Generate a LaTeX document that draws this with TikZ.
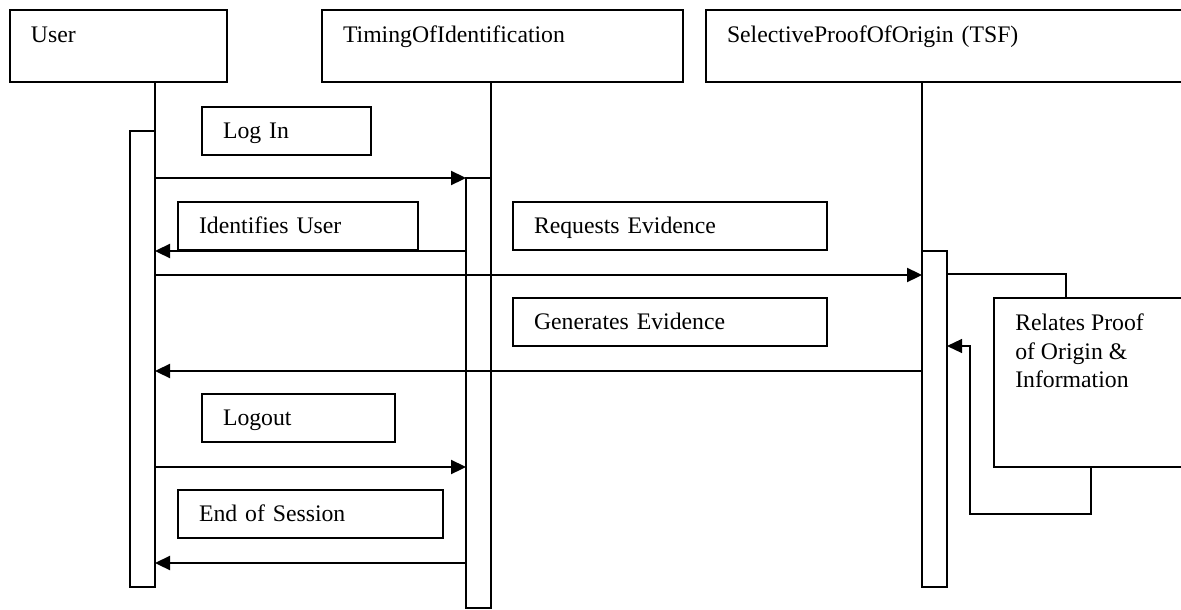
\documentclass[tikz,border=0pt]{standalone}
\usepackage{fontspec}
\setmainfont{Liberation Serif}
\usetikzlibrary{arrows.meta, calc}

\begin{document}
\begin{tikzpicture}[x=0.75pt, y=-0.75pt, >={Triangle[length=11.25pt, width=10.5pt]},
    font=\fontsize{17.8pt}{21.25pt}\selectfont,
    objbox/.style={draw, line width=1pt, anchor=north west, align=left, inner xsep=15.75pt, inner ysep=0pt,
      outer sep=0pt, text height=24.75pt, text depth=29.25pt},
    msgbox/.style={draw, line width=1pt, anchor=north west, align=left, inner xsep=15.75pt, inner ysep=0pt,
      outer sep=0pt, text height=23.25pt, text depth=12.75pt},
    actbox/.style={draw, line width=1pt, anchor=north west, inner sep=0pt, outer sep=0pt, minimum width=18.75pt},
    life/.style={line width=1pt},
    msg/.style={->, line width=1.7pt},
    selfmsg/.style={->, line width=0.9pt}]
      \useasboundingbox (0,0) rectangle (1181,610);
      \clip (0,0) rectangle (1181,610);

      % Objects
      \node[objbox, text width=131.25pt] (user) at (10,10) {User};
      \node[objbox, text width=239.25pt] (timing) at (322,10) {TimingOfIdentification};
      \node[objbox, text width=343.5pt] (selective) at (706,10) {SelectiveProofOfOrigin (TSF)};

      % Activations
      \node[actbox, minimum height=342pt] (uact) at (130,131) {};
      \node[actbox, minimum height=322.5pt] (tact) at (466,178) {};
      \node[actbox, minimum height=252pt] (sact) at (922,251) {};

      % Lifelines
      \draw[life] (user.south -| uact.east) -- (uact.north east);
      \draw[life] (timing.south -| tact.east) -- (tact.north east);
      \draw[life] (selective.south -| sact.west) -- (sact.north west);

      % Message labels
      \node[msgbox, text width=95.25pt] (login) at (202,107) {Log In};
      \node[msgbox, text width=148.5pt] (identifies) at (178,202) {Identifies User};
      \node[msgbox, text width=204pt] (requests) at (513,202) {Requests Evidence};
      \node[msgbox, text width=204pt] (generates) at (513,298) {Generates Evidence};
      \node[msgbox, text width=113.25pt] (logout) at (202,394) {Logout};
      \node[msgbox, text width=167.25pt] (endsession) at (178,490) {End of Session};

      % Relates box
      \node[draw, line width=1pt, anchor=north west, inner sep=0pt, outer sep=0pt, minimum width=150pt,
        minimum height=126.75pt] (relates) at (994,298) {};
      \node[anchor=north west, align=left, inner sep=0pt] (relatestext) at ([shift={(21,16)}]relates.north west)
        {Relates Proof\\of Origin \&\\Information};

      % Rows
      \coordinate (r1) at (0,178);
      \coordinate (r2) at (0,251);
      \coordinate (r3) at (0,275);
      \coordinate (r4) at (0,371);
      \coordinate (r5) at (0,467);
      \coordinate (r6) at (0,563);

      % Messages
      \draw[msg] (uact.east |- r1) -- (tact.west |- r1);
      \draw[msg] (tact.west |- r2) -- (uact.east |- r2);
      \draw[msg] (uact.east |- r3) -- (sact.west |- r3);
      \draw[msg] (sact.west |- r4) -- (uact.east |- r4);
      \draw[msg] (uact.east |- r5) -- (tact.west |- r5);
      \draw[msg] (tact.west |- r6) -- (uact.east |- r6);

      % Self message
      \coordinate (s1) at (1066,274);
      \coordinate (s3) at (1091,514);
      \coordinate (s4) at (970,346);
      \draw[life] (sact.east |- s1) -| (relates.north -| s1);
      \draw[selfmsg] (relates.south -| s3) -- (s3) -| (s4) -- (sact.east |- s4);
    \end{tikzpicture}
\end{document}
